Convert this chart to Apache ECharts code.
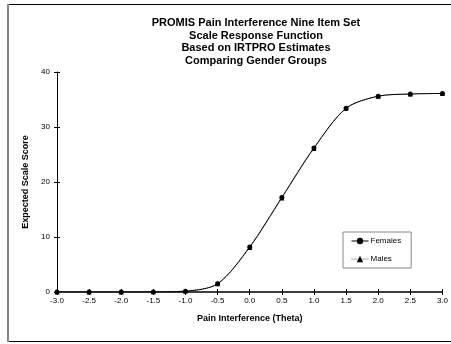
<!DOCTYPE html>
<html><head><meta charset="utf-8">
<script src="https://cdn.jsdelivr.net/npm/echarts@6/dist/echarts.min.js"></script>
<style>html,body{margin:0;padding:0;background:#fff}#c{width:451px;height:344px}</style>
</head><body><div id="c"></div>
<script>
const titleLines = ["PROMIS Pain Interference Nine Item Set","Scale Response Function","Based on IRTPRO Estimates","Comparing Gender Groups"];
const theta = [-3.0,-2.5,-2.0,-1.5,-1.0,-0.5,0.0,0.5,1.0,1.5,2.0,2.5,3.0];
const females = [0.0,0.0,0.0,0.02,0.15,1.5,8.2,17.2,26.2,33.4,35.6,36.0,36.1];
const males   = [0.0,0.0,0.0,0.03,0.2,1.5,8.1,17.1,26.1,33.4,35.6,36.0,36.1];
const xTicks = ["-3.0","-2.5","-2.0","-1.5","-1.0","-0.5","0.0","0.5","1.0","1.5","2.0","2.5","3.0"];

const chart = echarts.init(document.getElementById('c'), null, {renderer:'canvas'});
const font = 'Liberation Sans, Arial, sans-serif';
const pair = (xs, ys) => xs.map((x,i)=>[x, ys[i]]);
chart.setOption({
  animation:false,
  backgroundColor:'#fff',
  graphic:[
    {type:'rect', shape:{x:8.5,y:4.5,width:460,height:337}, style:{fill:'none',stroke:'#000',lineWidth:1}},
    {type:'rect', shape:{x:7,y:4,width:2,height:338}, style:{fill:'#888'}}
  ],
  title:{text:titleLines.join('\n'), left:251, top:12, textAlign:'center',
    textStyle:{fontFamily:font,fontSize:11,fontWeight:'bold',color:'#000',lineHeight:12.5}},
  grid:{left:57,right:6,top:72,bottom:52},
  legend:{
    orient:'vertical', left:343, top:232, width:69,
    backgroundColor:'#fff', borderColor:'#888', borderWidth:1, padding:[5,10,5,8],
    itemGap:10, itemWidth:17, itemHeight:8,
    lineStyle:{width:1},
    textStyle:{fontFamily:font,fontSize:8,color:'#000',padding:[0,0,0,-3]},
    data:['Females','Males']
  },
  xAxis:[{
    type:'value', min:-3, max:3, interval:0.5,
    name:'Pain Interference (Theta)', nameLocation:'middle', nameGap:22,
    nameTextStyle:{fontFamily:font,fontSize:9,fontWeight:'bold',color:'#000'},
    axisLine:{onZero:false,lineStyle:{color:'#000',width:1.5}},
    axisTick:{length:3,lineStyle:{color:'#000'}},
    axisLabel:{fontFamily:font,fontSize:8,color:'#000',margin:5,formatter:(v)=>xTicks[Math.round((v+3)*2)]},
    splitLine:{show:false}
  },{
    type:'value', min:-3, max:3, interval:0.5, position:'bottom',
    axisLine:{show:false,onZero:false}, axisTick:{inside:true,length:3,lineStyle:{color:'#000'}},
    axisLabel:{show:false}, splitLine:{show:false}
  }],
  yAxis:[{
    type:'value', min:0, max:40, interval:10, position:'left',
    name:'Expected Scale Score', nameLocation:'middle', nameGap:16,
    nameTextStyle:{fontFamily:font,fontSize:9,fontWeight:'bold',color:'#000'},
    axisLine:{show:true,onZero:false,lineStyle:{color:'#000',width:1}},
    axisTick:{show:true,length:3,lineStyle:{color:'#000'}},
    axisLabel:{fontFamily:font,fontSize:8,color:'#000',margin:7},
    splitLine:{show:false}
  },{
    type:'value', min:0, max:40, interval:10, position:'left',
    axisLine:{show:false,onZero:false}, axisTick:{show:true,inside:true,length:3,lineStyle:{color:'#000'}},
    axisLabel:{show:false}, splitLine:{show:false}
  }],
  series:[
    {name:'Males', type:'line', smooth:0.3, data:pair(theta,males), symbol:'triangle', symbolSize:5,
     lineStyle:{color:'#555',width:1,type:'dotted'}, itemStyle:{color:'#000'}, z:2},
    {name:'Females', type:'line', smooth:0.3, data:pair(theta,females), symbol:'circle', symbolSize:5,
     lineStyle:{color:'#000',width:1}, itemStyle:{color:'#000'}, z:3}
  ]
});
</script></body></html>
